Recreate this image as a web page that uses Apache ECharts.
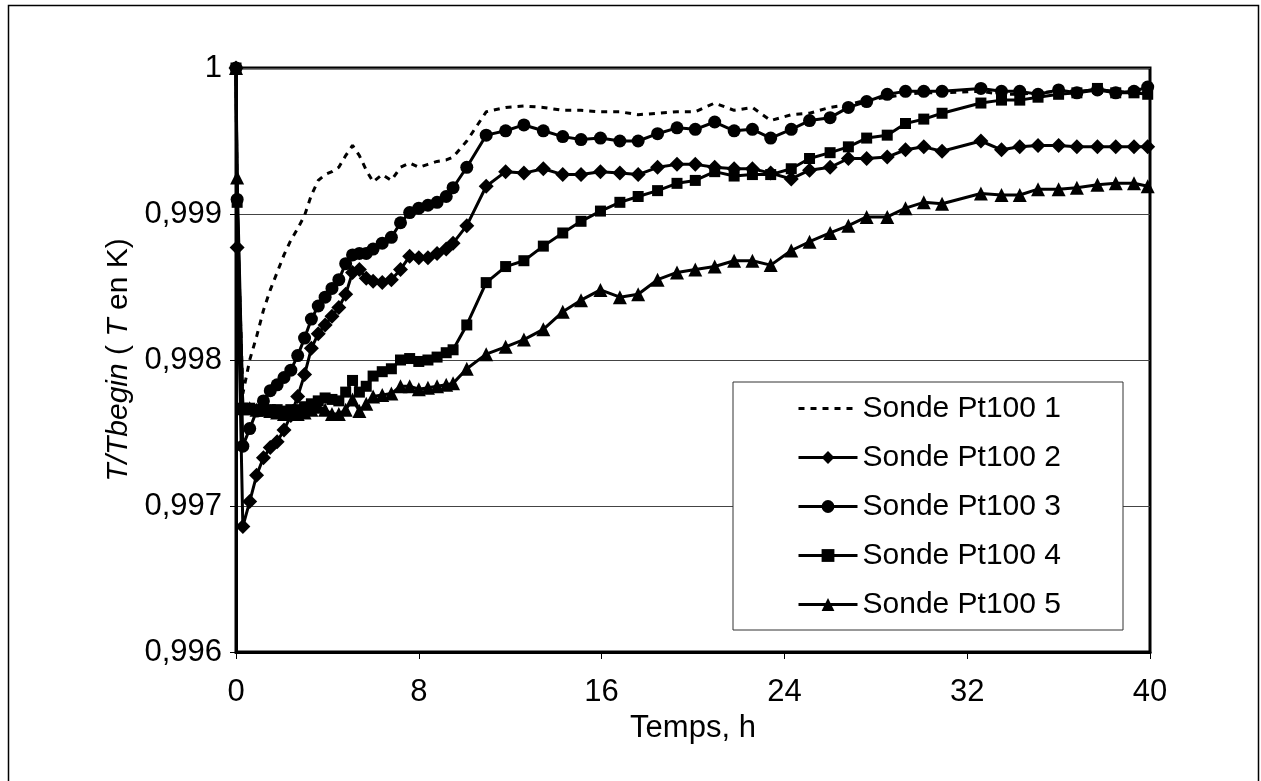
<!DOCTYPE html>
<html>
<head>
<meta charset="utf-8">
<script src="https://cdn.jsdelivr.net/npm/echarts@6/dist/echarts.min.js"></script>
<style>
html,body{margin:0;padding:0;background:#fff;}
#chart{width:1261px;height:781px;}
</style>
</head>
<body>
<div id="chart"></div>
<script>
// Time (h)
const times = [0, 0.05, 0.3, 0.6, 0.9, 1.2, 1.5, 1.8, 2.1, 2.4, 2.7, 3.0, 3.3, 3.6, 3.9, 4.2, 4.5, 4.8, 5.1, 5.4, 5.7, 6.0, 6.4, 6.8, 7.2, 7.6, 8.0, 8.4, 8.8, 9.2, 9.5,
  10.1, 10.95, 11.8, 12.6, 13.45, 14.3, 15.1, 15.95, 16.8, 17.6, 18.45, 19.3, 20.1, 20.95, 21.8, 22.6, 23.4, 24.3, 25.1, 26.0, 26.8, 27.6, 28.5, 29.3, 30.1, 30.9,
  32.6, 33.5, 34.3, 35.1, 36.0, 36.8, 37.7, 38.5, 39.3, 39.9];

const sonde1 = [1.0, 0.9990, 0.99777, 0.99800, 0.99816, 0.99834, 0.99848, 0.99860, 0.99872, 0.99882, 0.99890, 0.99899, 0.99913, 0.99923, 0.99927, 0.99929, 0.99932, 0.99940, 0.99947, 0.99940, 0.99930,
  0.99922, 0.99927, 0.99923, 0.99932, 0.99935, 0.99932, 0.99934, 0.99936, 0.99937, 0.99939,
  0.99950, 0.99970, 0.99973, 0.99974, 0.99973, 0.99971, 0.99971, 0.99970, 0.99970, 0.99968, 0.99969, 0.99970, 0.99970, 0.99976, 0.99971, 0.99973, 0.99964, 0.99968, 0.99969, 0.99973, 0.99975, 0.99978, 0.99980, 0.99982, 0.99983, 0.99983,
  0.99984, 0.99982, 0.99982, 0.99983, 0.99984, 0.99984, 0.99985, 0.99984, 0.99983, 0.99983];

const sonde2 = [1.0, 0.99877, 0.99686, 0.99703, 0.99721, 0.99733, 0.99740, 0.99744, 0.99752, 0.99762, 0.99775, 0.99790, 0.99808, 0.99818, 0.99824, 0.99830, 0.99836, 0.99845, 0.99860, 0.99862, 0.99856,
  0.99854, 0.99853, 0.99855, 0.99862, 0.99871, 0.99870, 0.99870, 0.99873, 0.99876, 0.99880,
  0.99892, 0.99919, 0.99929, 0.99928, 0.99931, 0.99927, 0.99927, 0.99929, 0.99928, 0.99927, 0.99932, 0.99934, 0.99934, 0.99932, 0.99931, 0.99931, 0.99928, 0.99924, 0.99930, 0.99932, 0.99938, 0.99938, 0.99939, 0.99944, 0.99946, 0.99943,
  0.99950, 0.99944, 0.99946, 0.99947, 0.99947, 0.99946, 0.99946, 0.99946, 0.99946, 0.99946];

const sonde3 = [1.0, 0.99910, 0.99741, 0.99753, 0.99765, 0.99772, 0.99779, 0.99783, 0.99788, 0.99793, 0.99803, 0.99815, 0.99828, 0.99837, 0.99843, 0.99849, 0.99855, 0.99866, 0.99872, 0.99873, 0.99873,
  0.99876, 0.99880, 0.99884, 0.99894, 0.99901, 0.99904, 0.99906, 0.99908, 0.99912, 0.99918,
  0.99932, 0.99954, 0.99957, 0.99961, 0.99957, 0.99953, 0.99951, 0.99952, 0.99950, 0.99950, 0.99955, 0.99959, 0.99958, 0.99963, 0.99957, 0.99958, 0.99952, 0.99958, 0.99964, 0.99966, 0.99973, 0.99977, 0.99982, 0.99984, 0.99984, 0.99984,
  0.99986, 0.99984, 0.99984, 0.99982, 0.99985, 0.99983, 0.99985, 0.99983, 0.99984, 0.99987];

const sonde4 = [1.0, 0.99908, 0.99767, 0.99767, 0.99766, 0.99767, 0.99766, 0.99766, 0.99765, 0.99766, 0.99766, 0.99768, 0.99770, 0.99772, 0.99774, 0.99773, 0.99772, 0.99778, 0.99786, 0.99778, 0.99782,
  0.99789, 0.99792, 0.99794, 0.99800, 0.99801, 0.99799, 0.99800, 0.99802, 0.99805, 0.99807,
  0.99824, 0.99853, 0.99864, 0.99868, 0.99878, 0.99887, 0.99895, 0.99902, 0.99908, 0.99912, 0.99916, 0.99921, 0.99923, 0.99929, 0.99926, 0.99927, 0.99927, 0.99931, 0.99938, 0.99942, 0.99946, 0.99952, 0.99954, 0.99962, 0.99965, 0.99969,
  0.99976, 0.99978, 0.99978, 0.99980, 0.99982, 0.99983, 0.99986, 0.99983, 0.99983, 0.99982];

const sonde5 = [1.0, 0.99925, 0.99767, 0.99767, 0.99766, 0.99766, 0.99765, 0.99764, 0.99763, 0.99764, 0.99763, 0.99764, 0.99766, 0.99768, 0.99766, 0.99763, 0.99763, 0.99766, 0.99773, 0.99765, 0.99770,
  0.99775, 0.99776, 0.99777, 0.99782, 0.99782, 0.99780, 0.99781, 0.99782, 0.99783, 0.99784,
  0.99794, 0.99804, 0.99809, 0.99814, 0.99821, 0.99833, 0.99841, 0.99848, 0.99843, 0.99845, 0.99855, 0.99860, 0.99862, 0.99864, 0.99868, 0.99868, 0.99865, 0.99875, 0.99881, 0.99887, 0.99892, 0.99898, 0.99898, 0.99904, 0.99908, 0.99907,
  0.99914, 0.99913, 0.99913, 0.99917, 0.99917, 0.99918, 0.99920, 0.99921, 0.99921, 0.99919];

const seriesNames = ['Sonde Pt100 1', 'Sonde Pt100 2', 'Sonde Pt100 3', 'Sonde Pt100 4', 'Sonde Pt100 5'];
const seriesValues = [sonde1, sonde2, sonde3, sonde4, sonde5];
const seriesSymbols = ['none', 'diamond', 'circle', 'rect', 'triangle'];
const symbolSizes = [0, 15, 13, 11, 14];
const seriesZ = [2, 3, 4, 6, 5];

const FONT = '"Liberation Sans", Arial, sans-serif';

const chart = echarts.init(document.getElementById('chart'), null, {renderer: 'canvas'});

const series = seriesNames.map((name, k) => ({
  name: name,
  type: 'line',
  data: times.map((t, i) => [t, seriesValues[k][i]]),
  symbol: seriesSymbols[k],
  symbolSize: symbolSizes[k],
  showSymbol: seriesSymbols[k] !== 'none',
  showAllSymbol: true,
  animation: false,
  itemStyle: {color: '#000', borderWidth: 0},
  lineStyle: {color: '#000', width: 3, type: k === 0 ? [6, 6] : 'solid'},
  emphasis: {disabled: true},
  z: seriesZ[k]
}));

const legendData = seriesNames.map((name, k) => (
  k === 0 ? {name: name, itemStyle: {opacity: 0}} : {name: name}
));

const option = {
  backgroundColor: '#fff',
  animation: false,
  graphic: [{
    type: 'rect',
    shape: {x: 8.5, y: 5.5, width: 1250, height: 800},
    style: {fill: 'none', stroke: '#000', lineWidth: 1.5},
    silent: true
  }],
  grid: {
    left: 236, top: 68, right: 111, bottom: 129,
    show: true, borderColor: '#000', borderWidth: 3, backgroundColor: 'transparent'
  },
  legend: {
    orient: 'vertical',
    left: 733, top: 382,
    padding: [11, 62, 10, 64],
    itemGap: 18,
    itemWidth: 59,
    itemHeight: 16,
    backgroundColor: '#fff',
    borderColor: '#333',
    borderWidth: 1,
    borderRadius: 0,
    lineStyle: {width: 3},
    textStyle: {fontFamily: FONT, fontSize: 30, color: '#000', lineHeight: 31, padding: [0, 0, 0, 0]},
    data: legendData
  },
  xAxis: {
    type: 'value',
    min: 0, max: 40, interval: 8,
    name: 'Temps, h',
    nameLocation: 'middle',
    nameGap: 61,
    nameTextStyle: {fontFamily: FONT, fontSize: 31, color: '#000'},
    axisLine: {show: true, lineStyle: {color: '#000', width: 3}},
    axisTick: {show: true, length: 7, lineStyle: {color: '#000', width: 1}},
    axisLabel: {fontFamily: FONT, fontSize: 31, color: '#000', margin: 25},
    splitLine: {show: false}
  },
  yAxis: {
    type: 'value',
    min: 0.996, max: 1, interval: 0.001,
    name: '{i|T/Tbegin} ( {i|T} en K)',
    nameLocation: 'middle',
    nameGap: 58,
    nameRotate: 90,
    nameTextStyle: {
      fontFamily: FONT, fontSize: 30, color: '#000',
      rich: {i: {fontFamily: FONT, fontSize: 30, fontStyle: 'italic', color: '#000'}}
    },
    axisLine: {show: true, lineStyle: {color: '#000', width: 3}},
    axisTick: {show: true, length: 6, lineStyle: {color: '#000', width: 1}},
    axisLabel: {
      fontFamily: FONT, fontSize: 31, color: '#000', margin: 14,
      formatter: function (v) {
        const r = Math.round(v * 1000) / 1000;
        if (r === 1) return '1';
        return r.toFixed(3).replace('.', ',');
      }
    },
    splitLine: {show: true, lineStyle: {color: '#444', width: 1}}
  },
  series: series
};

chart.setOption(option);
</script>
</body>
</html>
